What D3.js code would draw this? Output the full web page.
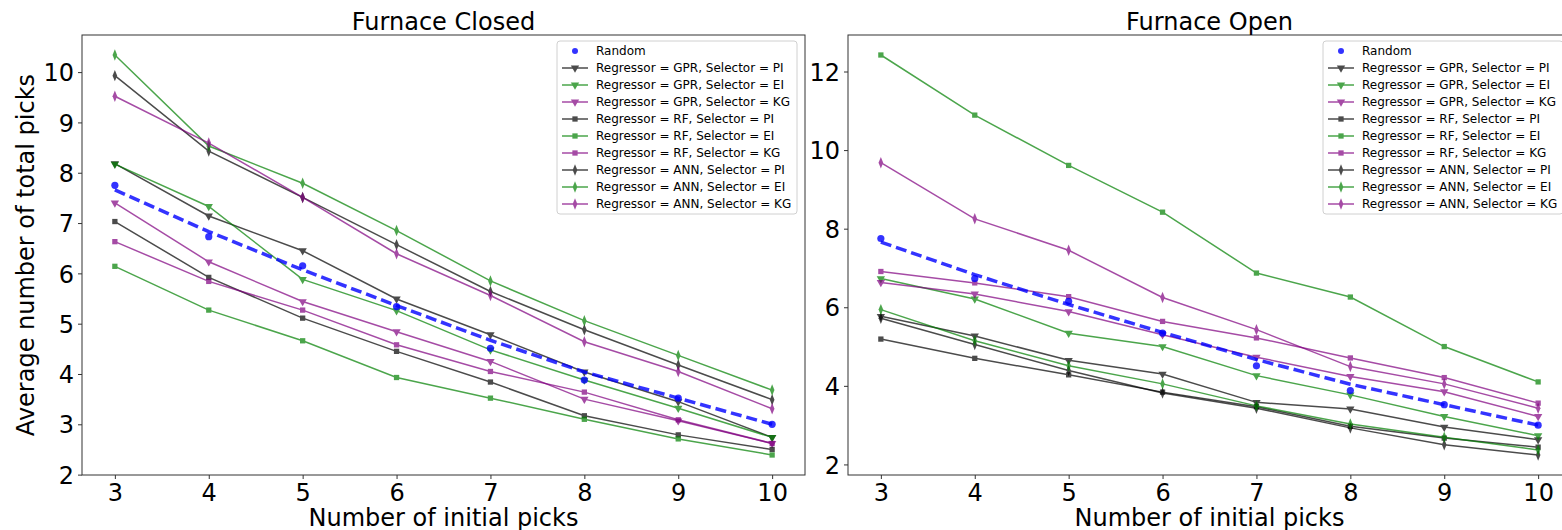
<!DOCTYPE html>
<html>
<head>
<meta charset="utf-8">
<script src="https://cdn.jsdelivr.net/npm/d3@7"></script>
<style>
  body { margin: 0; background: #fff; }
  text { font-family: "DejaVu Sans", sans-serif; }
</style>
</head>
<body>
<div id="chart"></div>
<script>
// x values shared by every series
const picks = [3, 4, 5, 6, 7, 8, 9, 10];

// Random baseline (same in both panels): dots + dashed trend
const randomPicks = [7.75, 6.73, 6.15, 5.34, 4.51, 3.88, 3.52, 3.00];
const randomTrend = [7.66, 6.83, 6.07, 5.36, 4.67, 4.04, 3.52, 3.00];

// Furnace Closed
const closedGprPi = [8.18, 7.14, 6.45, 5.49, 4.78, 4.04, 3.45, 2.74];
const closedGprEi = [8.17, 7.33, 5.88, 5.26, 4.48, 3.88, 3.32, 2.74];
const closedGprKg = [7.40, 6.23, 5.44, 4.84, 4.25, 3.50, 3.07, 2.62];
const closedRfPi  = [7.03, 5.92, 5.11, 4.45, 3.84, 3.17, 2.79, 2.50];
const closedRfEi  = [6.14, 5.27, 4.66, 3.93, 3.52, 3.10, 2.71, 2.39];
const closedRfKg  = [6.63, 5.84, 5.27, 4.58, 4.05, 3.64, 3.09, 2.62];
const closedAnnPi = [9.93, 8.43, 7.51, 6.57, 5.64, 4.88, 4.18, 3.49];
const closedAnnEi = [10.34, 8.53, 7.79, 6.85, 5.85, 5.06, 4.37, 3.68];
const closedAnnKg = [9.52, 8.59, 7.51, 6.39, 5.56, 4.64, 4.05, 3.31];

// Furnace Open
const openGprPi = [5.77, 5.27, 4.65, 4.30, 3.58, 3.41, 2.95, 2.63];
const openGprEi = [6.73, 6.21, 5.34, 5.00, 4.26, 3.77, 3.22, 2.73];
const openGprKg = [6.63, 6.34, 5.89, 5.30, 4.73, 4.24, 3.85, 3.22];
const openRfPi  = [5.19, 4.70, 4.28, 3.84, 3.47, 2.97, 2.67, 2.44];
const openRfEi  = [12.42, 10.89, 9.61, 8.42, 6.87, 6.26, 5.00, 4.10];
const openRfKg  = [6.91, 6.62, 6.27, 5.64, 5.22, 4.71, 4.21, 3.56];
const openAnnPi = [5.72, 5.05, 4.39, 3.82, 3.43, 2.93, 2.50, 2.24];
const openAnnEi = [5.94, 5.15, 4.51, 4.05, 3.49, 3.03, 2.69, 2.37];
const openAnnKg = [9.68, 8.25, 7.45, 6.25, 5.43, 4.49, 4.05, 3.43];

const regressors = ["GPR", "RF", "ANN"];
const selectors = ["PI", "EI", "KG"];
const closedTicks = [2, 3, 4, 5, 6, 7, 8, 9, 10];
const openTicks = [2, 4, 6, 8, 10, 12];

const selColor = { PI: "black", EI: "green", KG: "purple" };
const regMarker = { GPR: "tri", RF: "square", ANN: "diamond" };

const W = 1562, H = 530;
const svg = d3.select("#chart").append("svg")
    .attr("width", W)
    .attr("height", H);

function markerPath(kind) {
    if (kind === "tri") return d3.symbol(d3.symbolTriangle, 30)();
    if (kind === "square") return d3.symbol(d3.symbolSquare, 28)();
    return d3.symbol(d3.symbolDiamond, 38)();
}
function markerTransform(kind, x, y) {
    if (kind === "tri") return `translate(${x},${y}) rotate(180)`;
    if (kind === "diamond") return `translate(${x},${y}) scale(0.7,1)`;
    return `translate(${x},${y})`;
}

function drawPanel(cfg) {
    const g = svg.append("g");
    const allVals = cfg.series.flatMap(s => s.values).concat(randomPicks, randomTrend);
    const lo = d3.min(allVals), hi = d3.max(allVals);
    const pad = (hi - lo) * 0.05;

    const x = d3.scaleLinear().domain([2.65, 10.35]).range([cfg.left, cfg.right]);
    const y = d3.scaleLinear().domain([lo - pad, hi + pad]).range([cfg.bottom, cfg.top]);

    // axes
    const xAxis = g.append("g")
        .attr("transform", `translate(0,${cfg.bottom})`)
        .call(d3.axisBottom(x).tickValues(picks).tickFormat(d3.format("d")).tickSize(4).tickPadding(5));
    const yAxis = g.append("g")
        .attr("transform", `translate(${cfg.left},0)`)
        .call(d3.axisLeft(y).tickValues(cfg.yTicks).tickFormat(d3.format("d")).tickSize(4).tickPadding(4));
    [xAxis, yAxis].forEach(a => {
        a.select(".domain").remove();
        a.selectAll("line").attr("stroke", "#333");
        a.selectAll("text").attr("font-size", 24).attr("fill", "#000")
            .attr("font-family", "DejaVu Sans, sans-serif");
    });
    yAxis.selectAll("text").attr("dy", "0.36em");

    // frame
    g.append("rect")
        .attr("x", cfg.left).attr("y", cfg.top)
        .attr("width", cfg.right - cfg.left).attr("height", cfg.bottom - cfg.top)
        .attr("fill", "none").attr("stroke", "#333").attr("stroke-width", 1);

    const line = d3.line().x((d, i) => x(picks[i])).y(d => y(d));

    // series
    cfg.series.forEach(s => {
        const sg = g.append("g").attr("opacity", 0.7);
        sg.append("path")
            .datum(s.values)
            .attr("fill", "none")
            .attr("stroke", selColor[s.sel])
            .attr("stroke-width", 1.5)
            .attr("d", line);
        sg.selectAll("path.m")
            .data(s.values)
            .enter().append("path")
            .attr("class", "m")
            .attr("d", markerPath(regMarker[s.reg]))
            .attr("transform", (d, i) => markerTransform(regMarker[s.reg], x(picks[i]), y(d)))
            .attr("fill", selColor[s.sel]);
    });

    // random
    g.selectAll("circle.rand")
        .data(randomPicks)
        .enter().append("circle")
        .attr("class", "rand")
        .attr("cx", (d, i) => x(picks[i]))
        .attr("cy", d => y(d))
        .attr("r", 3.6)
        .attr("fill", "blue")
        .attr("fill-opacity", 0.8);
    g.append("path")
        .datum(randomTrend)
        .attr("fill", "none")
        .attr("stroke", "blue")
        .attr("stroke-opacity", 0.8)
        .attr("stroke-width", 3.5)
        .attr("stroke-dasharray", "11,5")
        .attr("d", line);

    // title and labels
    const cx = (cfg.left + cfg.right) / 2;
    g.append("text")
        .attr("x", cx).attr("y", 30)
        .attr("text-anchor", "middle")
        .attr("font-size", 24)
        .text(cfg.title);
    g.append("text")
        .attr("x", cx).attr("y", 526)
        .attr("text-anchor", "middle")
        .attr("font-size", 24)
        .text("Number of initial picks");
    if (cfg.yLabel) {
        g.append("text")
            .attr("transform", `translate(34,${(cfg.top + cfg.bottom) / 2}) rotate(-90)`)
            .attr("text-anchor", "middle")
            .attr("font-size", 24)
            .text(cfg.yLabel);
    }

    // legend
    const lw = 240, lh = 173;
    const lx = cfg.right - 8 - lw, ly = cfg.top + 6;
    const lg = g.append("g");
    lg.append("rect")
        .attr("x", lx).attr("y", ly).attr("width", lw).attr("height", lh)
        .attr("rx", 3)
        .attr("fill", "#fff").attr("fill-opacity", 0.85)
        .attr("stroke", "#d0d0d0");
    const rowY = i => ly + 10 + i * 17;
    lg.append("circle")
        .attr("cx", lx + 18).attr("cy", rowY(0)).attr("r", 3)
        .attr("fill", "blue").attr("fill-opacity", 0.8);
    lg.append("text")
        .attr("x", lx + 39).attr("y", rowY(0)).attr("dy", "0.36em")
        .attr("font-size", 12).text("Random");
    cfg.series.forEach((s, i) => {
        const yy = rowY(i + 1);
        const item = lg.append("g").attr("opacity", 0.7);
        item.append("line")
            .attr("x1", lx + 5).attr("x2", lx + 31).attr("y1", yy).attr("y2", yy)
            .attr("stroke", selColor[s.sel]).attr("stroke-width", 1.5);
        item.append("path")
            .attr("d", markerPath(regMarker[s.reg]))
            .attr("transform", markerTransform(regMarker[s.reg], lx + 18, yy))
            .attr("fill", selColor[s.sel]);
        lg.append("text")
            .attr("x", lx + 39).attr("y", yy).attr("dy", "0.36em")
            .attr("font-size", 12)
            .text(`Regressor = ${s.reg}, Selector = ${s.sel}`);
    });
}

function buildSeries(arrs) {
    const out = [];
    regressors.forEach((reg, ri) => {
        selectors.forEach((sel, si) => {
            out.push({ reg: reg, sel: sel, values: arrs[ri * 3 + si] });
        });
    });
    return out;
}

drawPanel({
    title: "Furnace Closed",
    left: 82, right: 805, top: 35, bottom: 475,
    yTicks: closedTicks,
    yLabel: "Average number of total picks",
    series: buildSeries([closedGprPi, closedGprEi, closedGprKg,
                         closedRfPi, closedRfEi, closedRfKg,
                         closedAnnPi, closedAnnEi, closedAnnKg])
});

drawPanel({
    title: "Furnace Open",
    left: 848, right: 1571, top: 35, bottom: 475,
    yTicks: openTicks,
    yLabel: null,
    series: buildSeries([openGprPi, openGprEi, openGprKg,
                         openRfPi, openRfEi, openRfKg,
                         openAnnPi, openAnnEi, openAnnKg])
});
</script>
</body>
</html>
